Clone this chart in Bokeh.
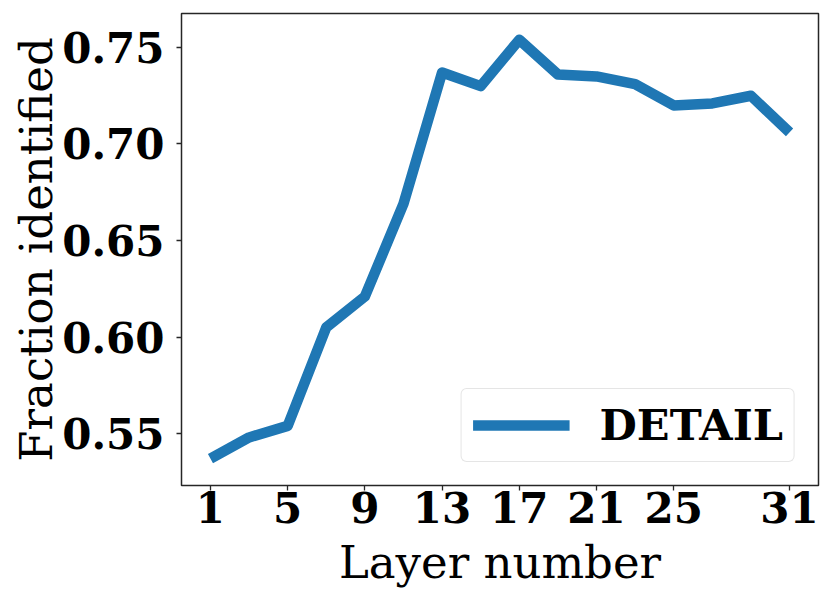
from bokeh.plotting import figure
from bokeh.models import Range1d, FixedTicker, Legend, LegendItem, NumeralTickFormatter
from bokeh.embed import file_html
from bokeh.resources import INLINE

layers = [1, 3, 5, 7, 9, 11, 13, 15, 17, 19, 21, 23, 25, 27, 29, 31]
fraction = [0.537, 0.548, 0.554, 0.605, 0.621, 0.669, 0.737, 0.730, 0.754,
            0.736, 0.735, 0.731, 0.720, 0.721, 0.725, 0.706]
x_ticks = [1, 5, 9, 13, 17, 21, 25, 31]
y_ticks = [0.55, 0.60, 0.65, 0.70, 0.75]
series_name = "DETAIL"

SERIF = "DejaVu Serif"

p = figure(width=828, height=600, output_backend="svg", toolbar_location=None,
           x_range=Range1d(-0.5, 32.5), y_range=Range1d(0.5231, 0.7676),
           min_border_left=181, min_border_right=10, min_border_top=13,
           min_border_bottom=115)

r = p.line(layers, fraction, line_color="#1f77b4", line_width=10.5,
           line_join="round", line_cap="butt")

p.xgrid.visible = False
p.ygrid.visible = False
p.outline_line_color = "#262626"
p.outline_line_width = 1.5
p.background_fill_color = "white"
p.border_fill_color = "white"

p.xaxis.ticker = FixedTicker(ticks=x_ticks)
p.yaxis.ticker = FixedTicker(ticks=y_ticks)
p.yaxis.formatter = NumeralTickFormatter(format="0.00")

for ax in (p.xaxis[0], p.yaxis[0]):
    ax.axis_line_color = None
    ax.major_tick_line_color = "#262626"
    ax.major_tick_line_width = 1.3
    ax.major_tick_out = 5
    ax.major_tick_in = 0
    ax.minor_tick_line_color = None
    ax.major_label_text_font = SERIF
    ax.major_label_text_font_style = "bold"
    ax.major_label_text_font_size = "42px"
    ax.major_label_text_color = "black"
    ax.axis_label_text_font = SERIF
    ax.axis_label_text_font_style = "normal"
    ax.axis_label_text_font_size = "45px"
    ax.axis_label_text_color = "black"

p.xaxis.axis_label = "Layer number"
p.yaxis.axis_label = "Fraction identified"
p.xaxis.major_label_standoff = 1
p.xaxis.axis_label_standoff = 10
p.yaxis.major_label_standoff = 12
p.yaxis.axis_label_standoff = -4

legend = Legend(items=[LegendItem(label=series_name, renderers=[r])],
                location="bottom_right")
legend.label_text_font = SERIF
legend.label_text_font_style = "bold"
legend.label_text_font_size = "43px"
legend.label_text_color = "black"
legend.glyph_width = 97
legend.glyph_height = 40
legend.label_standoff = 30
legend.padding = 11
legend.margin = 23
legend.border_line_color = "#cccccc"
legend.border_line_width = 1.3
legend.background_fill_color = "white"
legend.background_fill_alpha = 0.8
try:
    legend.border_radius = 6
except Exception:
    pass
p.add_layout(legend)

open("out.html", "w").write(file_html(p, INLINE))
